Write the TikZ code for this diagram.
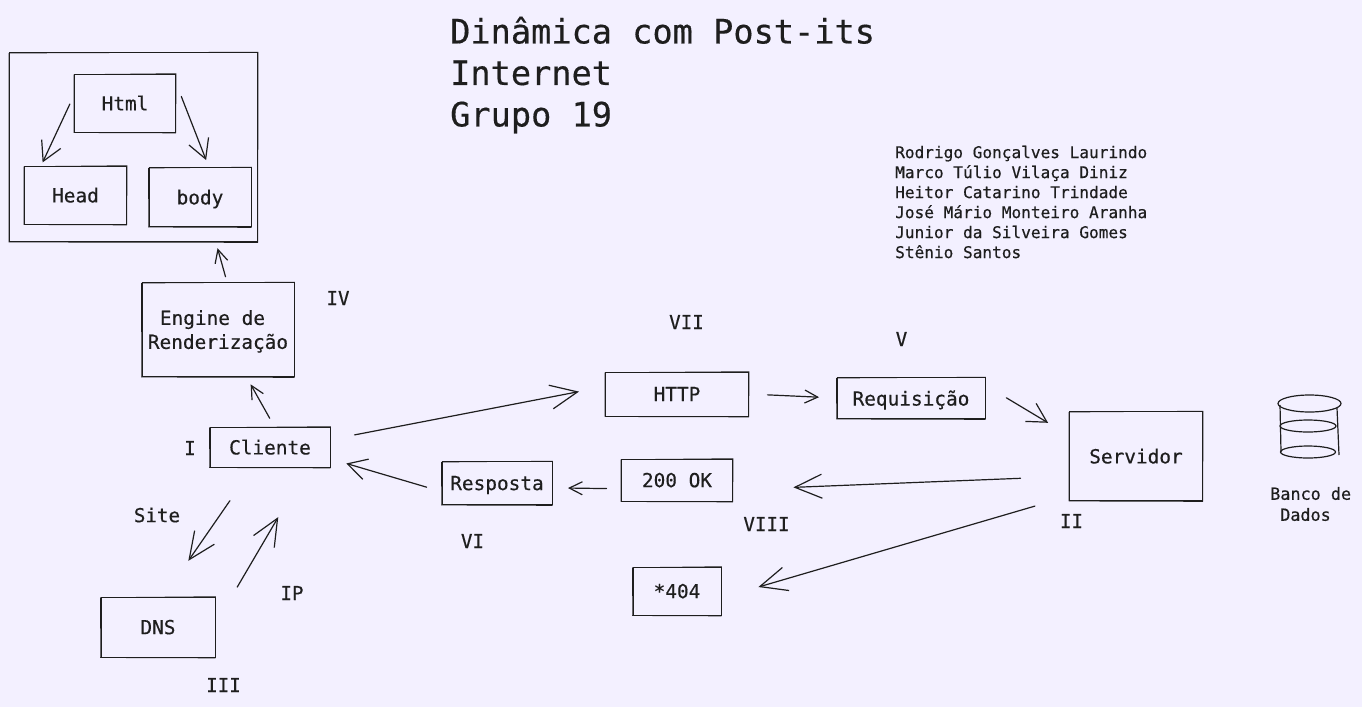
\documentclass[tikz,border=0pt]{standalone}
\usepackage{fontspec}
\newfontfamily\sketchfont[FakeBold=0.4]{DejaVu Sans Mono}
\usetikzlibrary{arrows.meta}
\definecolor{paper}{HTML}{F3F0FF}
\definecolor{ink}{HTML}{1E1E1E}
\tikzstyle{box} = [draw=ink,line width=0.9pt,inner sep=0pt,outer sep=0pt,align=center,text depth=0pt,font=\sketchfont\fontsize{19.4}{24}\selectfont,text=ink,
    append after command={\pgfextra{\draw [ink,line width=0.6pt,line join=round]
        ([shift={(-0.5,0.6)}]\tikzlastnode.north west) -- ([shift={(0.6,-0.4)}]\tikzlastnode.north east)
        -- ([shift={(0.3,1)}]\tikzlastnode.south east) -- ([shift={(-0.6,0.6)}]\tikzlastnode.south west) -- cycle;}}]
\tikzstyle{label} = [inner sep=0pt,font=\sketchfont\fontsize{19.2}{24}\selectfont,text=ink]
\tikzstyle{small} = [inner sep=0pt,anchor=west,align=left,font=\sketchfont\fontsize{16.1}{20}\selectfont,text=ink]
\tikzstyle{title} = [inner sep=0pt,anchor=west,align=left,font=\sketchfont\fontsize{33.6}{41.5}\selectfont,text=ink]
\tikzstyle{link} = [draw=ink,line width=1.2pt,line join=round,line cap=round]
\tikzset{>={Straight Barb[length=13pt,width=13pt]}}
\tikzstyle{mid} = [-{Straight Barb[length=19pt,width=21pt]}]
\tikzstyle{big} = [-{Straight Barb[length=27pt,width=24pt]}]
\begin{document}
\begin{tikzpicture}[x=1pt,y=-1pt]
    \useasboundingbox (0,0) rectangle (1362,707);
    \fill [paper] (0,0) rectangle (1362,707);
    \node [title] (heading) at (450,75) {Dinâmica com Post-its\\Internet\\Grupo 19};
    \node [small] (names) at (895,202) {Rodrigo Gonçalves Laurindo\\Marco Túlio Vilaça Diniz\\Heitor Catarino Trindade\\José Mário Monteiro Aranha\\Junior da Silveira Gomes\\Stênio Santos};
    \node [box,minimum width=248pt,minimum height=189pt] (page) at (133.5,147) {};
    \node [box,minimum width=101pt,minimum height=58pt] (html) at (125,103) {Html};
    \node [box,minimum width=102pt,minimum height=58pt] (head) at (75.5,195) {Head};
    \node [box,minimum width=102pt,minimum height=59pt] (bodytag) at (200,197) {body};
    \node [box,minimum width=152pt,minimum height=94pt] (engine) at (218,329.5) {Engine de\hspace*{11pt}\\Renderização};
    \node [box,minimum width=120pt,minimum height=40pt] (cliente) at (270,447) {Cliente};
    \node [box,minimum width=114pt,minimum height=60pt] (dns) at (158,627) {DNS};
    \node [box,minimum width=143pt,minimum height=44pt] (http) at (677,394) {HTTP};
    \node [box,minimum width=148pt,minimum height=41pt] (requisicao) at (911,398) {Requisição};
    \node [box,minimum width=133pt,minimum height=89pt] (servidor) at (1136,456) {Servidor};
    \node [box,minimum width=111pt,minimum height=42pt] (ok) at (677,480) {200 OK};
    \node [box,minimum width=110pt,minimum height=43pt] (resposta) at (497,483) {Resposta};
    \node [box,minimum width=88pt,minimum height=48pt] (erro) at (677,591) {*404};
    \node [label] (num1) at (190,448) {I};
    \node [label] (num2) at (1071.5,521) {II};
    \node [label] (num3) at (223.5,685) {III};
    \node [label] (num4) at (338,298) {IV};
    \node [label] (num5) at (901.5,339) {V};
    \node [label] (num6) at (472.5,541) {VI};
    \node [label] (num7) at (686.5,322) {VII};
    \node [label] (num8) at (766.5,524) {VIII};
    \node [label] (site) at (157,515) {Site};
    \node [label] (ip) at (292,593) {IP};
    \node [small,font=\sketchfont\fontsize{16.8}{21}\selectfont] (banco) at (1270,504) {Banco de\\\hspace*{10pt}Dados};
    \draw [link,mid,shorten <=11pt,shorten >=4pt] (html.170) -- (head.140);
    \draw [link,mid,shorten <=16pt,shorten >=8pt] (html.23) -- (bodytag.73);
    \draw [link,->,shorten <=6pt,shorten >=7pt] (engine.79) -- (page.-49);
    \draw [link,->,shorten <=10pt,shorten >=9pt] (cliente.77) -- (engine.-59);
    \draw [link,big,shorten <=25pt,shorten >=27pt] (cliente.7) -- (http.174);
    \draw [link,->,shorten <=19pt,shorten >=18pt] (http.east) -- (requisicao.west);
    \draw [link,mid,shorten <=25pt,shorten >=25pt] (requisicao.10) -- (servidor.163);
    \draw [link,big,shorten <=49pt,shorten >=61pt] (servidor.197) -- (ok.-10);
    \draw [link,big,shorten <=36pt,shorten >=39pt] (servidor.211) -- (erro.-9);
    \draw [link,->,shorten <=15pt,shorten >=16pt] (ok.189) -- (resposta.-5);
    \draw [link,mid,shorten <=16pt,shorten >=17pt] (resposta.189) -- (cliente.-11);
    \draw [link,big,shorten <=41pt,shorten >=44pt] (cliente.-130) -- (dns.80);
    \draw [link,big,shorten <=44pt,shorten >=58pt] (dns.2) -- (cliente.-28);
    \draw [ink,line width=1.2pt] (1309.5,403.5) ellipse [x radius=31.5,y radius=8.5];
    \draw [ink,line width=1.2pt] (1308,426) ellipse [x radius=28,y radius=6];
    \draw [ink,line width=1.2pt] (1308,452) ellipse [x radius=27.5,y radius=6];
    \draw [ink,line width=1.2pt] (1280,405) -- (1281,452);
    \draw [ink,line width=1.2pt] (1337,408) -- (1339,455);
\end{tikzpicture}
\end{document}
